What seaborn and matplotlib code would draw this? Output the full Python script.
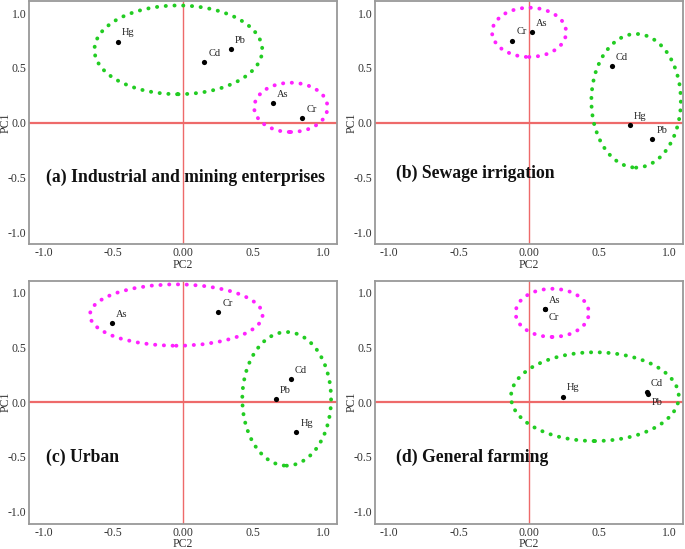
import numpy as np
import pandas as pd
import matplotlib
matplotlib.use("Agg")
import matplotlib.pyplot as plt
import matplotlib.font_manager as fm
from matplotlib.patches import Ellipse
import seaborn as sns

# 패널별 데이터 (PC2, PC1 loadings)
panel_titles = ["(a) Industrial and mining enterprises", "(b) Sewage irrigation",
                "(c) Urban", "(d) General farming"]
elements_a = ["Hg", "Cd", "Pb", "As", "Cr"]
pc2_a = [-0.47, 0.15, 0.34, 0.64, 0.85]
pc1_a = [0.74, 0.55, 0.67, 0.18, 0.04]

elements_b = ["Cr", "As", "Cd", "Hg", "Pb"]
pc2_b = [-0.12, 0.02, 0.59, 0.72, 0.88]
pc1_b = [0.75, 0.83, 0.52, -0.02, -0.15]

elements_c = ["As", "Cr", "Cd", "Pb", "Hg"]
pc2_c = [-0.51, 0.25, 0.77, 0.66, 0.81]
pc1_c = [0.72, 0.82, 0.21, 0.03, -0.27]

elements_d = ["As", "Cr", "Hg", "Cd", "Pb"]
pc2_d = [0.11, 0.11, 0.24, 0.84, 0.85]
pc1_d = [0.85, 0.85, 0.05, 0.09, 0.075]

# 그룹 타원: (center x, center y, width, height)
green_ellipses = [(-0.035, 0.665, 1.20, 0.81), (0.765, 0.20, 0.64, 1.22),
                  (0.74, 0.03, 0.635, 1.22), (0.47, 0.05, 1.20, 0.81)]
magenta_ellipses = [(0.77, 0.14, 0.525, 0.45), (0.0, 0.825, 0.53, 0.45),
                    (-0.05, 0.795, 1.235, 0.56), (0.165, 0.815, 0.525, 0.44)]

# 점 아래에 라벨을 다는 원소
label_below = {3: ["Cr", "Pb"]}

sns.set_style("white")
plt.rcParams['font.family'] = ['Liberation Serif', 'DejaVu Serif']

# 굵은 글꼴 파일 직접 지정
bold_file = None
for f in fm.fontManager.ttflist:
    if f.name == "Liberation Serif" and f.weight == 700 and f.style == "normal":
        bold_file = f.fname
        break
if bold_file:
    title_font = fm.FontProperties(fname=bold_file, size=12.7)
else:
    title_font = fm.FontProperties(family="Liberation Serif", weight="bold", size=12.7)

fig = plt.figure(figsize=(6.85, 5.49), dpi=100)
positions = [[0.043, 0.555, 0.449, 0.443], [0.548, 0.555, 0.449, 0.443],
             [0.043, 0.046, 0.449, 0.443], [0.548, 0.046, 0.449, 0.443]]
title_xy = [(-0.98, -0.5), (-0.95, -0.46), (-0.98, -0.5), (-0.95, -0.5)]

data = [(elements_a, pc2_a, pc1_a), (elements_b, pc2_b, pc1_b),
        (elements_c, pc2_c, pc1_c), (elements_d, pc2_d, pc1_d)]

green = "#22cc22"
magenta = "#ff22ff"
redline = "#ee6a6a"

for i, (els, xs, ys) in enumerate(data):
    ax = fig.add_axes(positions[i])
    df = pd.DataFrame({"PC2": xs, "PC1": ys, "el": els})
    ax.axhline(0, color=redline, lw=1.6, zorder=1)
    ax.axvline(0, color=redline, lw=1.0, zorder=1)
    for (cx, cy, w, h), col in [(green_ellipses[i], green), (magenta_ellipses[i], magenta)]:
        e = Ellipse((cx, cy), w, h, fill=False, edgecolor=col, lw=2.8,
                    linestyle=(0, (0.05, 2.2)), capstyle="round", zorder=2)
        ax.add_patch(e)
    sns.scatterplot(data=df, x="PC2", y="PC1", color="black", s=14,
                    edgecolor="black", linewidth=0, ax=ax, zorder=3)
    for el, x, y in zip(els, xs, ys):
        if el in label_below.get(i, []):
            ax.annotate(el, (x, y), xytext=(3, -3), textcoords="offset points",
                        fontsize=7.5, ha="left", va="top", color="#222222")
        else:
            ax.annotate(el, (x, y), xytext=(3, 3), textcoords="offset points",
                        fontsize=7.5, ha="left", va="bottom", color="#222222")
    ax.text(title_xy[i][0], title_xy[i][1], panel_titles[i], fontproperties=title_font,
            ha="left", va="center", color="#111111")
    ax.set_xlim(-1.1, 1.1)
    ax.set_ylim(-1.11, 1.11)
    ax.set_xticks([-1.0, -0.5, 0.0, 0.5, 1.0])
    ax.set_xticklabels(["-1.0", "-0.5", "0.00", "0.5", "1.0"])
    ax.set_yticks([-1.0, -0.5, 0.0, 0.5, 1.0])
    ax.set_yticklabels(["-1.0", "-0.5", "0.0", "0.5", "1.0"])
    ax.tick_params(direction="in", length=2.5, width=0.8, colors="#999999",
                   labelcolor="#333333", labelsize=8.5, pad=2)
    ax.set_xlabel("PC2", fontsize=8.5, color="#333333")
    ax.set_ylabel("PC1", fontsize=8.5, color="#333333")
    ax.xaxis.set_label_coords(0.5, -0.06)
    ax.yaxis.set_label_coords(-0.058, 0.5)
    for sp in ax.spines.values():
        sp.set_color("#999999")
        sp.set_linewidth(1.3)

plt.savefig("out.png", dpi=100)
